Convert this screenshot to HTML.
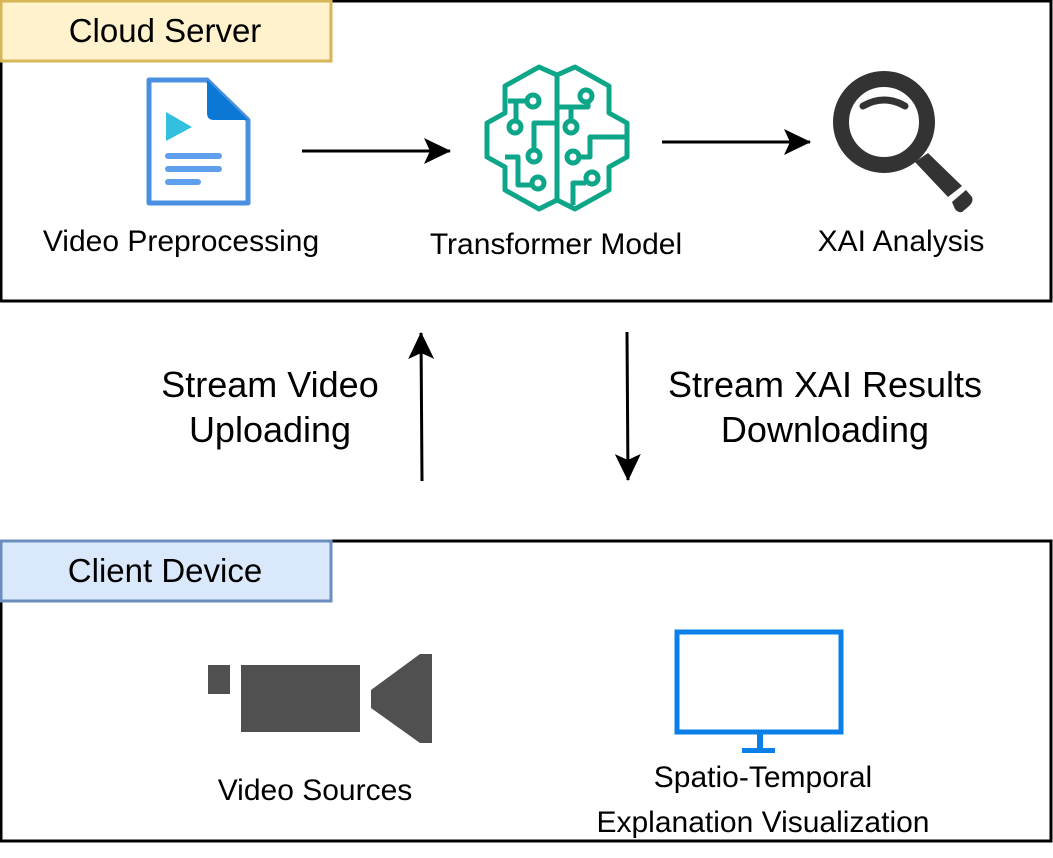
<!DOCTYPE html>
<html><head><style>
body{margin:0;width:1053px;height:858px;background:#fff;font-family:"Liberation Sans",sans-serif;position:relative;overflow:hidden}
.t{position:absolute;text-align:center;color:#000;white-space:nowrap}
</style></head><body>
<svg width="1053" height="858" style="position:absolute;left:0;top:0">
<defs><marker id="a" markerWidth="30" markerHeight="30" refX="26" refY="13" orient="auto" markerUnits="userSpaceOnUse"><path d="M0,0 L27,13 L0,26 L6,13z" fill="#000"/></marker></defs>
<rect x="1" y="1" width="1050" height="300" fill="#fff" stroke="#000" stroke-width="3"/>
<rect x="1" y="1" width="330" height="60" fill="#fff2cc" stroke="#d6b656" stroke-width="3"/>
<rect x="1" y="541" width="1050" height="300" fill="#fff" stroke="#000" stroke-width="3"/>
<rect x="1" y="541" width="330" height="60" fill="#dae8fc" stroke="#6c8ebf" stroke-width="3"/>
<path d="M149,80 H207 L248,120 V203 H149 Z" fill="#fff" stroke="#4a90e2" stroke-width="5" stroke-linejoin="round"/>
<path d="M207,80 L248,120 H214 Q207,120 207,113 Z" fill="#0a78d4"/>
<path d="M166,112 L192,127 L166,141 Z" fill="#32bfe0"/>
<g stroke="#5ea0ee" stroke-width="6" stroke-linecap="round"><line x1="168" y1="156" x2="219" y2="156"/><line x1="168" y1="169" x2="219" y2="169"/><line x1="168" y1="182" x2="198" y2="182"/></g>
<line x1="302" y1="151" x2="450" y2="151" stroke="#000" stroke-width="3" marker-end="url(#a)"/>
<line x1="662" y1="142" x2="810" y2="142" stroke="#000" stroke-width="3" marker-end="url(#a)"/>
<line x1="422" y1="481" x2="421" y2="333" stroke="#000" stroke-width="3" marker-end="url(#a)"/>
<line x1="627" y1="332" x2="628" y2="480" stroke="#000" stroke-width="3" marker-end="url(#a)"/>
<g fill="none" stroke="#0ea688" stroke-width="5" stroke-linejoin="round">
<path d="M557,75 L539,67 L505,86 L505,113 L487,123 L487,157 L505,167 L505,190 L539,209 L557,200 Z"/>
<path d="M557,75 L575,67 L609,86 L609,113 L627,123 L627,157 L609,167 L609,190 L575,209 L557,200"/>
<path d="M557,75 V200"/>
<path d="M508,101 H526 M516,101 V120 M534,149 V123 H557 M505,157 H518 V185 H532 M557,107 H588 V102 M571,107 V120"/>
<path d="M579,157 H590 V137 H625 M586,183 H573 V205"/>
<circle cx="533" cy="101" r="6"/><circle cx="515" cy="127" r="6"/><circle cx="534" cy="156" r="6"/><circle cx="538" cy="183" r="6"/>
<circle cx="586" cy="96" r="6"/><circle cx="571" cy="127" r="6"/><circle cx="573" cy="157" r="6"/><circle cx="592" cy="178" r="6"/>
</g>
<circle cx="884" cy="122" r="43" fill="none" stroke="#333" stroke-width="16"/>
<path d="M863,106 Q884,94 905,106" fill="none" stroke="#333" stroke-width="7" stroke-linecap="round"/>
<path d="M915,162 L928,153 L962,186 L948,197 Z" fill="#333"/>
<path d="M952,202 L966,190 L972,197 Q974,202 968,207 L962,212 Q958,213 955,209 Z" fill="#333"/>
<rect x="208" y="665" width="22" height="29" fill="#505050"/>
<rect x="241" y="665" width="119" height="67" fill="#505050"/>
<path d="M371,690 L420,654 L432,654 L432,743 L420,743 L371,708 Z" fill="#505050"/>
<rect x="677" y="632" width="164" height="100" fill="none" stroke="#0a7fe8" stroke-width="5"/>
<rect x="757" y="733" width="6" height="16" fill="#0a7fe8"/>
<rect x="742" y="748" width="33" height="5" fill="#0a7fe8"/>
</svg>
<div class="t" style="left:0;width:330px;top:12px;font-size:33px">Cloud Server</div>
<div class="t" style="left:0;width:330px;top:552px;font-size:33px">Client Device</div>
<div class="t" style="left:0;width:362px;top:225px;font-size:30px">Video Preprocessing</div>
<div class="t" style="left:376px;width:360px;top:228px;font-size:30px">Transformer Model</div>
<div class="t" style="left:780px;width:242px;top:225px;font-size:30px">XAI Analysis</div>
<div class="t" style="left:120px;width:300px;top:362px;font-size:36px;line-height:45px">Stream Video<br>Uploading</div>
<div class="t" style="left:625px;width:400px;top:362px;font-size:36px;line-height:45px">Stream XAI Results<br>Downloading</div>
<div class="t" style="left:165px;width:300px;top:774px;font-size:30px">Video Sources</div>
<div class="t" style="left:563px;width:400px;top:755px;font-size:30px;line-height:45px">Spatio-Temporal<br>Explanation Visualization</div>
</body></html>
